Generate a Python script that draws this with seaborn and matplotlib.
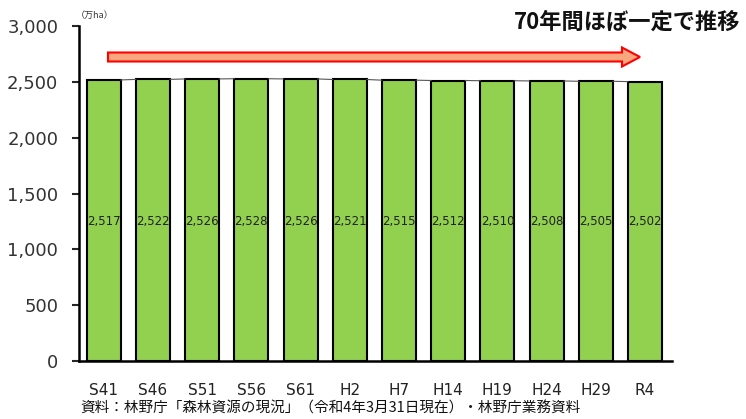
import numpy as np
import pandas as pd
import matplotlib
matplotlib.use('Agg')
import matplotlib.pyplot as plt
import seaborn as sns
from matplotlib.patches import FancyArrow

# data
years = ['S41', 'S46', 'S51', 'S56', 'S61', 'H2', 'H7', 'H14', 'H19', 'H24', 'H29', 'R4']
area = [2517, 2522, 2526, 2528, 2526, 2521, 2515, 2512, 2510, 2508, 2505, 2502]
yticks = [0, 500, 1000, 1500, 2000, 2500, 3000]

sns.set_style('white')
plt.rcParams['font.family'] = ['Noto Sans CJK JP', 'DejaVu Sans']

df = pd.DataFrame({'year': years, 'area': area})

fig = plt.figure(figsize=(7.46, 4.19), dpi=100)
ax = fig.add_axes([0.106, 0.138, 0.795, 0.8])

sns.barplot(data=df, x='year', y='area', color='#92D050', saturation=1,
            width=0.69, edgecolor='black', linewidth=1.5, ax=ax)

# thin series line joining bar tops
for i in range(len(area) - 1):
    ax.plot([i + 0.345, i + 1 - 0.345], [area[i], area[i + 1]],
            color='#555555', lw=0.8, zorder=1)

for i, v in enumerate(area):
    ax.text(i, 1250, f'{v:,}', ha='center', va='center', fontsize=8.5,
            color='#222222', family=['DejaVu Sans'])

ax.set_ylim(0, 3000)
ax.set_xlim(-0.5, 11.55)
ax.set_yticks(yticks)
ax.set_yticklabels([f'{t:,}' for t in yticks], fontsize=13, color='#333333',
                   family=['DejaVu Sans'])
ax.set_xticks(range(len(years)))
ax.set_xticklabels(years, fontsize=11, color='#222222', family=['DejaVu Sans'])
ax.tick_params(axis='y', left=True, length=5, width=1.5, direction='out', pad=10)
ax.tick_params(axis='x', bottom=False, pad=12)
ax.set_xlabel('')
ax.set_ylabel('')
sns.despine(ax=ax)
ax.spines['left'].set_linewidth(1.8)
ax.spines['bottom'].set_linewidth(1.8)
ax.spines['left'].set_color('black')
ax.spines['bottom'].set_color('black')

# arrow
arr = FancyArrow(108 / 746, 1 - 57 / 419, 532 / 746, 0, width=9 / 419,
                 head_width=19 / 419, head_length=18 / 746,
                 length_includes_head=True, transform=fig.transFigure,
                 facecolor='#F8A77F', edgecolor='#FF0000', lw=1.5)
fig.patches.append(arr)

fig.text(0.993, 1 - 22 / 419, '70年間ほぼ一定で推移', ha='right', va='center',
         fontsize=16, fontweight='bold', color='#111111')
fig.text(76 / 746, 1 - 15 / 419, '（万ha）', ha='left', va='center', fontsize=6.5,
         color='#333333')
fig.text(80 / 746, 1 - 409 / 419,
         '資料：林野庁「森林資源の現況」（令和4年3月31日現在）・林野庁業務資料',
         ha='left', va='center', fontsize=10.5, color='#111111')

fig.savefig('out.png', dpi=100)
